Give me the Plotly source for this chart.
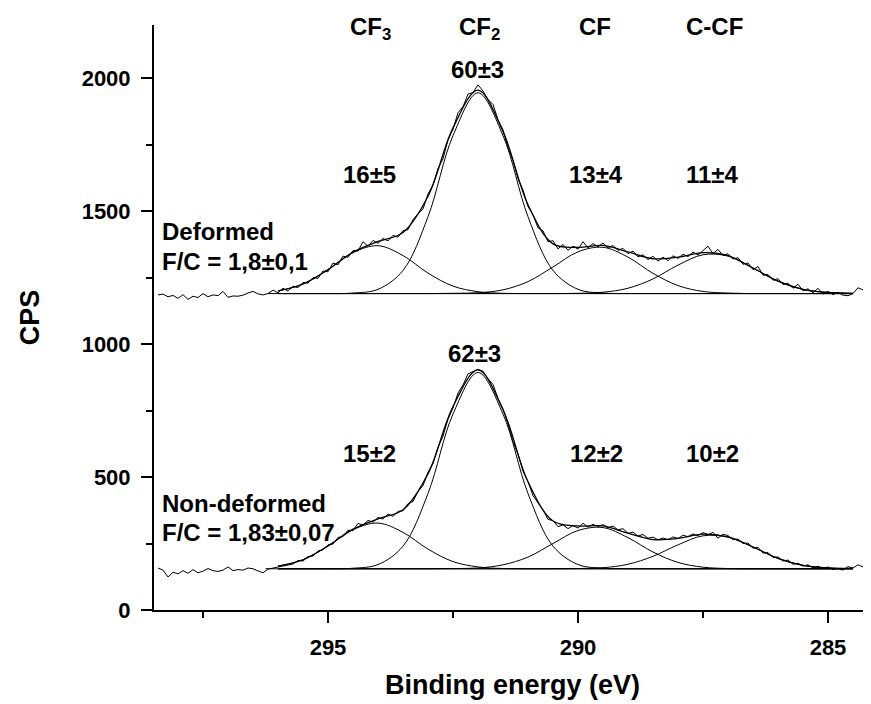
import numpy as np
import plotly.graph_objects as go

# measured C1s spectra, 0.1 eV steps from 298.4 down to 284.1 eV
energy = np.round(np.arange(298.4, 284.05, -0.1), 1)

cps_deformed = [
    1185, 1188, 1178, 1183, 1172, 1186, 1168, 1180, 1175, 1190, 1178, 1185, 1182, 1198, 1176, 1181,
    1180, 1184, 1192, 1198, 1189, 1185,
    1190, 1203, 1193, 1210, 1199, 1218, 1212, 1232, 1229, 1250,
    1247, 1275, 1272, 1305, 1298, 1331, 1326, 1352, 1350, 1385,
    1368, 1390, 1379, 1397, 1388, 1409, 1402, 1427, 1430, 1468,
    1490, 1508, 1565, 1598, 1660, 1697, 1768, 1808, 1870, 1893,
    1940, 1946, 1975, 1952, 1920, 1901, 1844, 1806, 1737, 1690,
    1622, 1580, 1517, 1486, 1437, 1426, 1385, 1389, 1358, 1375,
    1353, 1368, 1357, 1385, 1362, 1378, 1366, 1380, 1361, 1371,
    1352, 1360, 1340, 1350, 1328, 1336, 1318, 1330, 1312, 1327,
    1314, 1332, 1322, 1338, 1329, 1346, 1335, 1352, 1368, 1340,
    1356, 1333, 1340, 1320, 1325, 1300, 1305, 1280, 1292, 1259,
    1262, 1240, 1246, 1224, 1229, 1210, 1225, 1200, 1208, 1193,
    1210, 1188, 1198, 1186, 1195, 1184, 1182, 1190, 1212, 1204,
    1218, 1210,
]

cps_nondeformed = [
    158, 150, 124, 142, 136, 148, 138, 152, 140, 146, 156, 148, 145, 150, 162, 148,
    152, 150, 158, 155, 147, 140,
    154, 158, 160, 164, 168, 173, 186, 184, 201, 203,
    222, 226, 245, 248, 273, 276, 300, 298, 326, 319,
    337, 330, 348, 342, 361, 352, 371, 373, 400, 408,
    446, 468, 518, 551, 612, 654, 718, 760, 816, 846,
    888, 896, 905, 898, 870, 848, 796, 756, 700, 633,
    586, 522, 483, 430, 404, 376, 341, 336, 313, 320,
    306, 317, 308, 326, 312, 322, 314, 321, 309, 316,
    301, 306, 288, 293, 278, 284, 270, 274, 264, 271,
    264, 275, 269, 281, 276, 286, 280, 291, 283, 292,
    270, 285, 280, 264, 267, 250, 252, 232, 236, 214,
    216, 197, 200, 184, 188, 172, 176, 165, 170, 158,
    165, 155, 162, 152, 156, 150, 163, 158, 170, 162,
    174, 172,
]

# fitted components (CPS above the linear background), 0.5 eV steps 296.0 -> 284.5 eV
fit_energy = np.round(np.arange(296.0, 284.4, -0.5), 1)

cf3_def = [10, 36, 90, 154, 180, 143, 77, 28, 7, 1, 0, 0, 0, 0, 0, 0, 0, 0, 0, 0, 0, 0, 0, 0]
cf2_def = [0, 0, 0, 2, 16, 87, 289, 594, 755, 594, 289, 87, 16, 2, 0, 0, 0, 0, 0, 0, 0, 0, 0, 0]
cf_def = [0, 0, 0, 0, 0, 0, 0, 1, 3, 14, 45, 100, 157, 174, 137, 76, 30, 8, 2, 0, 0, 0, 0, 0]
ccf_def = [0, 0, 0, 0, 0, 0, 0, 0, 0, 0, 0, 0, 1, 5, 20, 55, 107, 146, 141, 96, 47, 16, 4, 1]
background_def = 1190

cf3_non = [10, 34, 86, 147, 172, 137, 74, 27, 7, 1, 0, 0, 0, 0, 0, 0, 0, 0, 0, 0, 0, 0, 0, 0]
cf2_non = [0, 0, 0, 2, 16, 85, 283, 582, 738, 582, 283, 85, 16, 2, 0, 0, 0, 0, 0, 0, 0, 0, 0, 0]
cf_non = [0, 0, 0, 0, 0, 0, 0, 1, 3, 15, 44, 95, 144, 155, 117, 63, 24, 6, 1, 0, 0, 0, 0, 0]
ccf_non = [0, 0, 0, 0, 0, 0, 0, 0, 0, 0, 0, 0, 1, 4, 17, 47, 90, 124, 119, 82, 39, 13, 3, 1]
background_non = 155

background_span_def = [296.2, 284.55]
background_span_non = [296.25, 284.95]

assert len(cps_deformed) == len(energy) == len(cps_nondeformed)

fig = go.Figure()
thin = dict(color='black', width=1)

spectra = [
    (cps_deformed, background_def, background_span_def, [cf3_def, cf2_def, cf_def, ccf_def]),
    (cps_nondeformed, background_non, background_span_non, [cf3_non, cf2_non, cf_non, ccf_non]),
]
for raw, bg, span, comps in spectra:
    fig.add_trace(go.Scatter(x=energy, y=raw, mode='lines', line=thin))
    for comp in comps:
        fig.add_trace(go.Scatter(x=fit_energy, y=bg + np.array(comp), mode='lines',
                                 line=dict(color='black', width=1, shape='spline')))
    envelope = bg + np.sum(np.array(comps), axis=0)
    fig.add_trace(go.Scatter(x=fit_energy, y=envelope, mode='lines',
                             line=dict(color='black', width=1.3, shape='spline')))
    fig.add_trace(go.Scatter(x=span, y=[bg, bg], mode='lines', line=thin))

font = 'Liberation Sans, Arial, sans-serif'
labels = [
    ('CF<sub>3</sub>', 294.15, 2188), ('CF<sub>2</sub>', 291.97, 2188),
    ('CF', 289.66, 2195), ('C-CF', 287.28, 2195),
    ('60±3', 292.02, 2031), ('16±5', 294.18, 1636), ('13±4', 289.64, 1636), ('11±4', 287.32, 1636),
    ('62±3', 292.08, 963), ('15±2', 294.18, 590), ('12±2', 289.64, 587), ('10±2', 287.32, 587),
]
annotations = [dict(text=t, x=x, y=y, xref='x', yref='y', showarrow=False,
                    font=dict(family=font, size=24, color='black', weight='bold'))
               for t, x, y in labels]
for t, y in [('Deformed', 1425), ('F/C = 1,8±0,1', 1309),
             ('Non-deformed', 402), ('F/C = 1,83±0,07', 290)]:
    annotations.append(dict(text=t, x=298.36, y=y, xref='x', yref='y', xanchor='left',
                            showarrow=False,
                            font=dict(family=font, size=24, color='black', weight='bold')))

axis_style = dict(
    showline=True, linewidth=2, linecolor='black', mirror=False,
    showgrid=False, zeroline=False, automargin=False,
    ticks='outside', ticklen=11, tickwidth=2, tickcolor='black',
    ticklabelstandoff=6,
    tickfont=dict(family=font, size=22, color='black', weight='bold'),
)

# the page body adds an 8 px offset, so the figure is 8 px smaller than the window
fig.update_layout(
    width=863, height=696,
    margin=dict(l=146, r=0, t=17, b=94),
    plot_bgcolor='white', paper_bgcolor='white',
    showlegend=False,
    annotations=annotations,
    xaxis=dict(
        range=[298.48, 284.14], tickvals=[295, 290, 285],
        minor=dict(tickvals=[297.5, 292.5, 287.5], ticks='outside', ticklen=6,
                   tickwidth=2, tickcolor='black'),
        title=dict(text='Binding energy (eV)', standoff=16,
                   font=dict(family=font, size=27, color='black', weight='bold')),
        **axis_style,
    ),
    yaxis=dict(
        range=[0, 2200], tickvals=[0, 500, 1000, 1500, 2000],
        minor=dict(tickvals=[250, 750, 1250, 1750], ticks='outside', ticklen=6,
                   tickwidth=2, tickcolor='black'),
        title=dict(text='CPS', standoff=34,
                   font=dict(family=font, size=27, color='black', weight='bold')),
        **axis_style,
    ),
)

fig.write_html("out.html")
